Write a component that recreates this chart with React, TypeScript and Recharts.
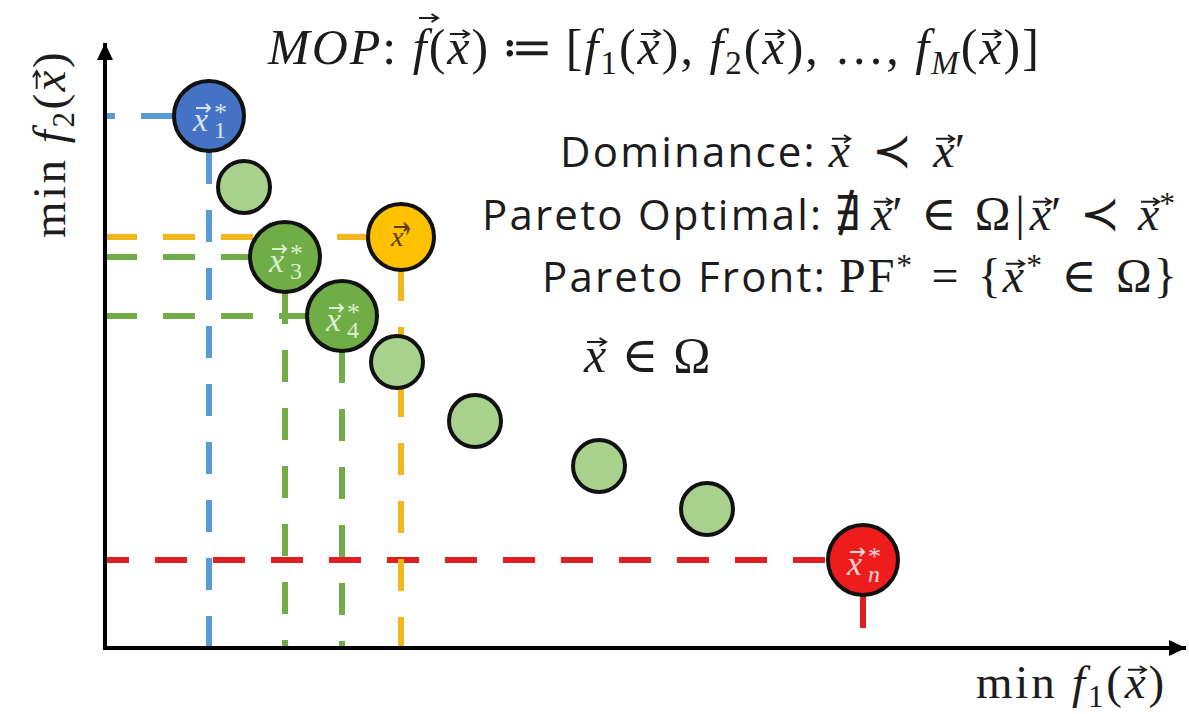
import { Scatter, ScatterChart, XAxis, YAxis } from "recharts";

// decision vectors in objective space (min f1, min f2)
const f1 = [10.4, 13.9, 18.0, 29.6, 23.7, 29.2, 37.0, 49.4, 60.2, 75.8];
const f2 = [53.2, 46.1, 39.1, 41.1, 33.2, 28.6, 22.7, 18.2, 13.9, 8.8];
const kinds = ["blue", "plain", "green", "orange", "green", "plain", "plain", "plain", "plain", "red"];
const tags = ["1", "", "3", "′", "4", "", "", "", "", "n"];

const X_MAX = 108.1;
const Y_MAX = 60.5;

const palette: Record<string, { fill: string; text: string; dash: string }> = {
  blue: { fill: "#4472c4", text: "#d6e2f5", dash: "#5b9bd5" },
  green: { fill: "#70ad47", text: "#dcefcf", dash: "#70ad47" },
  orange: { fill: "#ffc000", text: "#5a3b00", dash: "#f2b71c" },
  red: { fill: "#ee1c1c", text: "#ffd6d6", dash: "#dd1f1f" },
  plain: { fill: "#a9d18e", text: "#000", dash: "#000" },
};

// dash phase so the gaps fall where the original drawing has them
const dashPhase: Record<string, [number, number]> = {
  "1": [22, 22],
  "′": [0, 26],
  "3": [0, 23],
  "4": [0, 23],
  n: [8, 22],
};

const points = f1.map((x, i) => ({ x, y: f2[i], kind: kinds[i], tag: tags[i] }));
const labelled = points.filter((p) => p.kind !== "plain");
const axisPath = [
  { x: 0, y: Y_MAX },
  { x: 0, y: 0 },
  { x: X_MAX, y: 0 },
];

const serif = "'Liberation Serif', 'DejaVu Serif', serif";
const sans = "'Open Sans', Lato, sans-serif";
const ink = "#1c1c1c";

function Bubble(props: any) {
  const { cx, cy, payload } = props;
  const c = palette[payload.kind];
  if (payload.kind === "plain") {
    return <circle cx={cx} cy={cy} r={26} fill={c.fill} stroke="#111" strokeWidth={4} />;
  }
  const prime = payload.tag === "′";
  const lx = prime ? cx - 10 : cx - 16;
  const ly = prime ? cy + 9 : cy + 15;
  return (
    <g>
      <circle cx={cx} cy={cy} r={prime ? 33 : 35} fill={c.fill} stroke="#111" strokeWidth={4} />
      <text x={lx} y={ly} fontFamily={serif} fontStyle="italic" fontSize={prime ? 28 : 34} fill={c.text}>
        {prime ? "x′" : "x"}
      </text>
      <path
        d={`M${lx + 3} ${ly - 23} h14 m-4 -4 l4 4 l-4 4`}
        stroke={c.text}
        strokeWidth={2}
        fill="none"
        transform={prime ? `translate(0 ${4})` : undefined}
      />
      {!prime && (
        <>
          <text x={cx + 5} y={cy + 5} fontFamily={serif} fontSize={26} fill={c.text}>
            *
          </text>
          <text
            x={cx + 5}
            y={cy + 22}
            fontFamily={serif}
            fontStyle={payload.tag === "n" ? "italic" : "normal"}
            fontSize={24}
            fill={c.text}
          >
            {payload.tag}
          </text>
        </>
      )}
    </g>
  );
}

const UpArrow = (props: any) => (
  <polygon points={`${props.cx},${props.cy} ${props.cx - 8},${props.cy + 17} ${props.cx + 8},${props.cy + 17}`} fill="#000" />
);
const RightArrow = (props: any) => (
  <polygon points={`${props.cx},${props.cy} ${props.cx - 17},${props.cy - 8} ${props.cx - 17},${props.cy + 8}`} fill="#000" />
);
const Nothing = () => <g />;

// vector letter: italic glyph with a small drawn arrow above it
const Vec = ({ ch = "x", top = "0.2em", left = "0.06em" }: { ch?: string; top?: string; left?: string }) => (
  <span style={{ position: "relative", fontStyle: "italic", fontFamily: serif }}>
    {ch}
    <svg
      viewBox="0 0 12 6"
      style={{ position: "absolute", left, top, width: "0.4em", height: "0.2em", overflow: "visible" }}
    >
      <path d="M0 3 H11 M7.5 0.6 L11.4 3 L7.5 5.4" stroke="currentColor" strokeWidth={1.2} fill="none" />
    </svg>
  </span>
);
const Sub = ({ children }: { children: any }) => (
  <span style={{ fontSize: "0.66em", position: "relative", top: "0.3em" }}>{children}</span>
);
const Sup = ({ children }: { children: any }) => (
  <span style={{ fontSize: "0.66em", position: "relative", top: "-0.5em" }}>{children}</span>
);
const I = ({ children }: { children: any }) => <span style={{ fontStyle: "italic" }}>{children}</span>;
// relation symbol with thick spacing on both sides
const Op = ({ children, gap = "0.3em" }: { children: any; gap?: string }) => (
  <span style={{ margin: `0 ${gap}` }}>{children}</span>
);
const Math = ({ children, spacing = 0 }: { children: any; spacing?: number }) => (
  <span style={{ fontFamily: serif, fontSize: 48, letterSpacing: spacing, marginLeft: 12 }}>{children}</span>
);

const abs = (left: number, top: number, extra: any = {}) => ({
  position: "absolute" as const,
  left,
  top,
  whiteSpace: "nowrap" as const,
  lineHeight: 1,
  color: ink,
  ...extra,
});
const sansLine = { fontFamily: sans, fontSize: 42, letterSpacing: 2.2 };

export default function App() {
  return (
    <div style={{ position: "absolute", left: 0, top: 0, width: 1189, height: 714, background: "#fff", overflow: "hidden" }}>
      <ScatterChart width={1189} height={714} margin={{ top: 43, right: 3, bottom: 66, left: 105 }}>
        <XAxis type="number" dataKey="x" domain={[0, X_MAX]} hide />
        <YAxis type="number" dataKey="y" domain={[0, Y_MAX]} hide />
        {labelled.map((p) => (
          <Scatter
            key={"h" + p.tag}
            data={[{ x: 0, y: p.y }, { x: p.x, y: p.y }]}
            fill={palette[p.kind].dash}
            line={{ stroke: palette[p.kind].dash, strokeWidth: 6, strokeDasharray: "32 26", strokeDashoffset: dashPhase[p.tag][0] }}
            shape={Nothing}
            isAnimationActive={false}
          />
        ))}
        {labelled.map((p) => (
          <Scatter
            key={"v" + p.tag}
            data={[{ x: p.x, y: p.y }, { x: p.x, y: 0 }]}
            fill={palette[p.kind].dash}
            line={{ stroke: palette[p.kind].dash, strokeWidth: 6, strokeDasharray: "32 26", strokeDashoffset: dashPhase[p.tag][1] }}
            shape={Nothing}
            isAnimationActive={false}
          />
        ))}
        <Scatter
          data={axisPath}
          fill="#000"
          line={{ stroke: "#000", strokeWidth: 4 }}
          shape={Nothing}
          isAnimationActive={false}
        />
        <Scatter data={points} shape={Bubble} isAnimationActive={false} />
        <Scatter data={[{ x: 0, y: Y_MAX }]} shape={UpArrow} isAnimationActive={false} />
        <Scatter data={[{ x: X_MAX, y: 0 }]} shape={RightArrow} isAnimationActive={false} />
      </ScatterChart>

      <div style={abs(268, 22, { fontFamily: serif, fontSize: 50, letterSpacing: 2.0 })}>
        <I>MOP</I>:{" "}
        <Vec ch="f" top="-0.12em" left="0.12em" />
        (<Vec />)<Op gap="0.22em">≔</Op>[<I>f</I>
        <Sub>1</Sub>(<Vec />), <I>f</I>
        <Sub>2</Sub>(<Vec />), …, <I>f</I>
        <Sub>
          <I>M</I>
        </Sub>
        (<Vec />)]
      </div>

      <div style={abs(560, 127, sansLine)}>
        Dominance:
        <Math>
          <Vec />
          <Op gap="0.45em">≺</Op>
          <Vec />′
        </Math>
      </div>

      <div style={abs(482, 190, sansLine)}>
        Pareto Optimal:
        <Math>
          <span style={{ marginRight: "0.2em" }}>∄</span>
          <Vec />′<Op gap="0.38em">∈</Op>Ω<span style={{ margin: "0 0.1em" }}>|</span>
          <Vec />′<Op gap="0.38em">≺</Op>
          <Vec />
          <Sup>*</Sup>
        </Math>
      </div>

      <div style={abs(542, 252, sansLine)}>
        Pareto Front:
        <Math spacing={2}>
          PF<Sup>*</Sup>
          <Op gap="0.36em">=</Op>
          {"{"}
          <Vec />
          <Sup>*</Sup>
          <Op gap="0.36em">∈</Op>Ω{"}"}
        </Math>
      </div>

      <div style={abs(584, 330, { fontFamily: serif, fontSize: 50 })}>
        <Vec />
        <Op>∈</Op>Ω
      </div>

      <div style={abs(976, 659, { fontFamily: serif, fontSize: 47, letterSpacing: 2.8 })}>
        min <I>f</I>
        <Sub>1</Sub>(<Vec />)
      </div>

      <div
        style={abs(26, 238, {
          fontFamily: serif,
          fontSize: 47,
          letterSpacing: 2.5,
          transformOrigin: "0 0",
          transform: "rotate(-90deg)",
        })}
      >
        min <I>f</I>
        <Sub>2</Sub>(<Vec />)
      </div>
    </div>
  );
}
